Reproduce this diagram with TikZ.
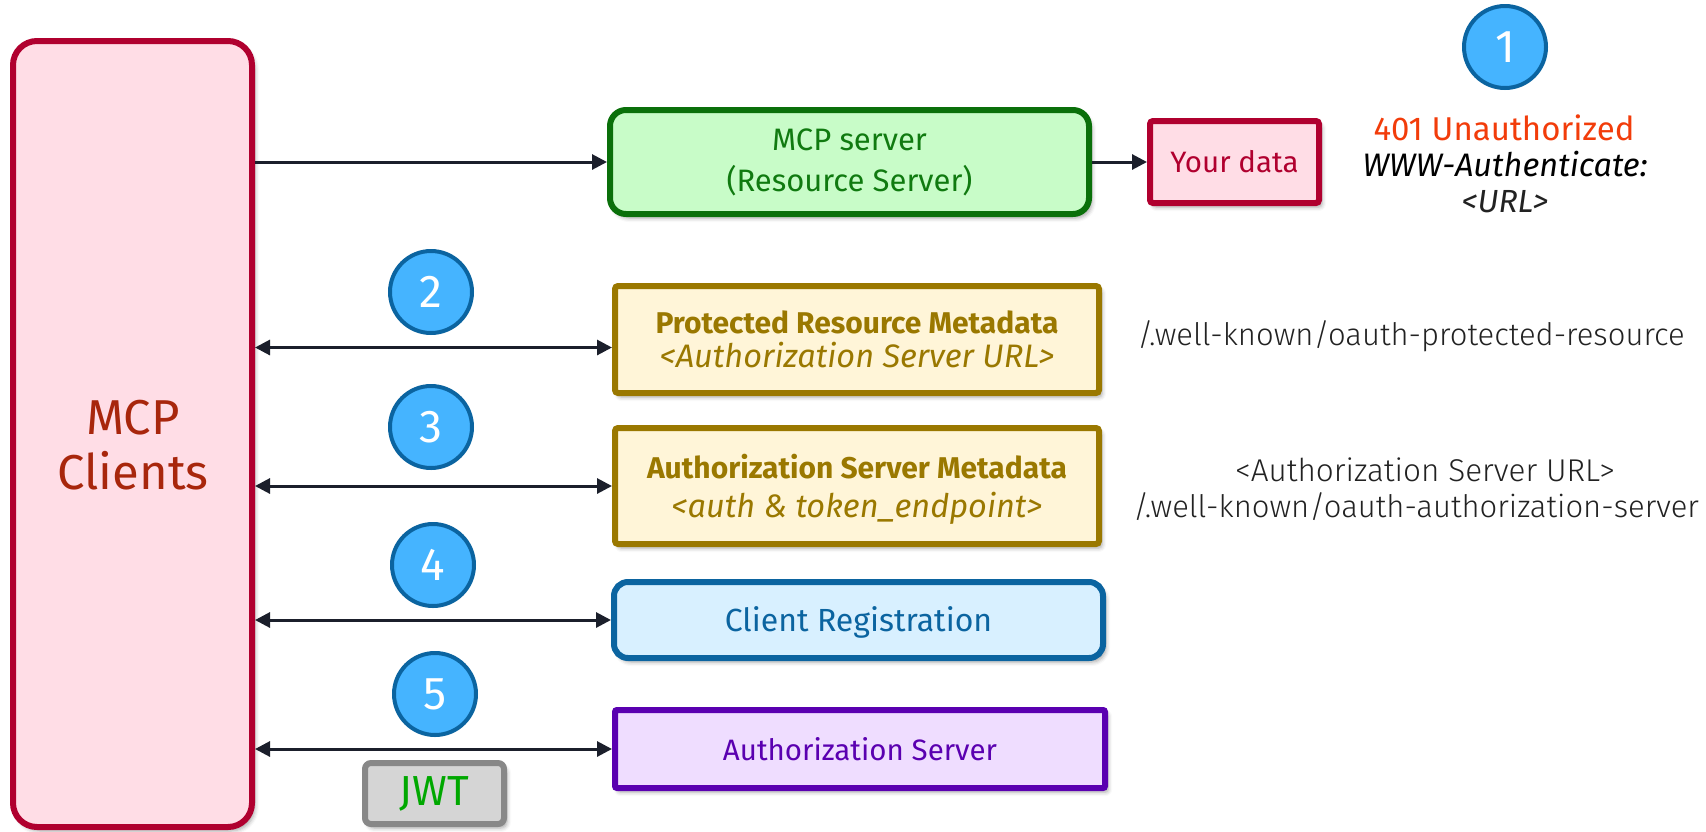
\documentclass[tikz,border=0pt]{standalone}
\usepackage{fontspec}
\setmainfont{Fira Sans}
\newfontfamily\lightfont{Fira Sans Light}
\usetikzlibrary{arrows.meta,shadows.blur,calc}

\definecolor{clientline}{HTML}{B0002F}
\definecolor{clientfill}{HTML}{FFDDE6}
\definecolor{clienttext}{HTML}{A8260C}
\definecolor{srvline}{HTML}{0A700A}
\definecolor{srvfill}{HTML}{C8FCC8}
\definecolor{srvtext}{HTML}{107A10}
\definecolor{metaline}{HTML}{9A7800}
\definecolor{metafill}{HTML}{FFF5D8}
\definecolor{regline}{HTML}{0B64A0}
\definecolor{regfill}{HTML}{D8F0FF}
\definecolor{asline}{HTML}{5A00B0}
\definecolor{asfill}{HTML}{EFDDFF}
\definecolor{jwtline}{HTML}{888888}
\definecolor{jwtfill}{HTML}{D5D5D5}
\definecolor{jwttext}{HTML}{00A800}
\definecolor{stepfill}{HTML}{45B4FF}
\definecolor{errtext}{HTML}{F23C0A}
\definecolor{arrowcol}{HTML}{1B1F2B}
\definecolor{notetext}{HTML}{222222}

\newcommand\fsz[2]{\fontsize{#1}{#2}\selectfont}
% lower a label without changing the size used to centre it
\newcommand\lowered[2]{\raisebox{-#1}[\height][\depth]{#2}}

\begin{document}
\begin{tikzpicture}[x=1pt,y=-1pt,
  box/.style={draw, line width=6pt, inner sep=0pt, align=center,
    blur shadow={shadow xshift=3pt, shadow yshift=-4pt,
      shadow blur radius=4pt, shadow opacity=35}},
  stepnum/.style={circle, draw=regline, line width=4pt, fill=stepfill,
    minimum size=82pt, inner sep=0pt, text=white, font=\fsz{46}{46}},
  conn/.style={draw=arrowcol, line width=3pt},
  tip/.tip={Triangle[length=15pt,width=15pt]},
  note/.style={inner sep=0pt, text=notetext}]

\useasboundingbox (0,0) rectangle (1706,831);

% client column
\node[box, draw=clientline, fill=clientfill, rounded corners=24pt,
  minimum width=239pt, minimum height=786pt] (clients) at (132.5,434) {};
\node[inner sep=0pt, align=center, text=clienttext, font=\fsz{49}{55}]
  (clientstext) at (133,445) {MCP\\Clients};

% resource server and protected data
\node[box, draw=srvline, fill=srvfill, rounded corners=16pt,
  minimum width=479pt, minimum height=104pt, text=srvtext,
  font=\fsz{31}{41}] (mcp) at (849.5,162) {MCP server\\(Resource Server)};
\node[box, draw=clientline, fill=clientfill, rounded corners=3pt,
  minimum width=169pt, minimum height=82pt, text=clientline,
  font=\fsz{29.5}{34}] (data) at (1234.5,162) {Your data};

% discovery documents
\node[box, draw=metaline, fill=metafill, rounded corners=3pt,
  minimum width=484pt, minimum height=107pt, text=metaline,
  font=\fsz{30}{34}] (prm) at (857,339.5)
  {{\bfseries Protected Resource Metadata}\\{\itshape\fsz{32.5}{34}<Authorization Server URL>}};
\node[box, draw=metaline, fill=metafill, rounded corners=3pt,
  minimum width=484pt, minimum height=116pt, text=metaline,
  font=\fsz{30}{39}] (asm) at (857,486)
  {\lowered{4.5pt}{\begin{tabular}{@{}c@{}}\bfseries Authorization Server Metadata\\
    {\itshape\fsz{32.5}{39}<auth \& token\_endpoint>}\end{tabular}}};

% registration and authorization
\node[box, draw=regline, fill=regfill, rounded corners=14pt,
  minimum width=489pt, minimum height=76pt, text=regline,
  font=\fsz{32}{38}] (reg) at (858.5,620) {\lowered{2.5pt}{Client Registration}};
\node[box, draw=asline, fill=asfill, rounded corners=2pt,
  minimum width=490pt, minimum height=78pt, text=asline,
  font=\fsz{29.5}{34}] (authsrv) at (860,749) {Authorization Server};
\node[box, draw=jwtline, fill=jwtfill, rounded corners=6pt,
  minimum width=139pt, minimum height=61pt, text=jwttext,
  font=\fsz{42}{46}] (jwt) at (434.5,793.5) {JWT};

% step markers
\node[stepnum] (s1) at (1505,47) {1};
\node[stepnum] (s2) at (431,292) {2};
\node[stepnum] (s3) at (431,427) {3};
\node[stepnum] (s4) at (433,565) {4};
\node[stepnum] (s5) at (435,694) {5};

% response and endpoint notes
\node[note, text=errtext, font=\fsz{33}{38}] (unauth) at (1504,128) {401 Unauthorized};
\node[note, text=black, font=\itshape\fsz{32.5}{36}] (wwwauth) at (1505,164) {WWW-Authenticate:};
\node[note, font=\itshape\fsz{32}{36}] (urlnote) at (1505,202) {<URL>};
\node[note, font=\lightfont\fsz{31}{36}] (wkprm) at (1411,336) {/.well-known/oauth-protected-resource};
\node[note, font=\lightfont\fsz{31.5}{36}] (wkasurl) at (1425,470) {<Authorization Server URL>};
\node[note, font=\lightfont\fsz{31}{36}] (wkasm) at (1416,507) {/.well-known/oauth-authorization-server};

% connectors
\coordinate (prmin) at ([yshift=-8pt]prm.west);
\draw[conn, -tip] (clients.east |- mcp.west) -- (mcp.west);
\draw[conn, -tip] (mcp.east) -- (data.west);
\draw[conn, tip-tip] (clients.east |- prmin) -- (prmin);
\draw[conn, tip-tip] (clients.east |- asm.west) -- (asm.west);
\draw[conn, tip-tip] (clients.east |- reg.west) -- (reg.west);
\draw[conn, tip-tip] (clients.east |- authsrv.west) -- (authsrv.west);
\end{tikzpicture}
\end{document}
